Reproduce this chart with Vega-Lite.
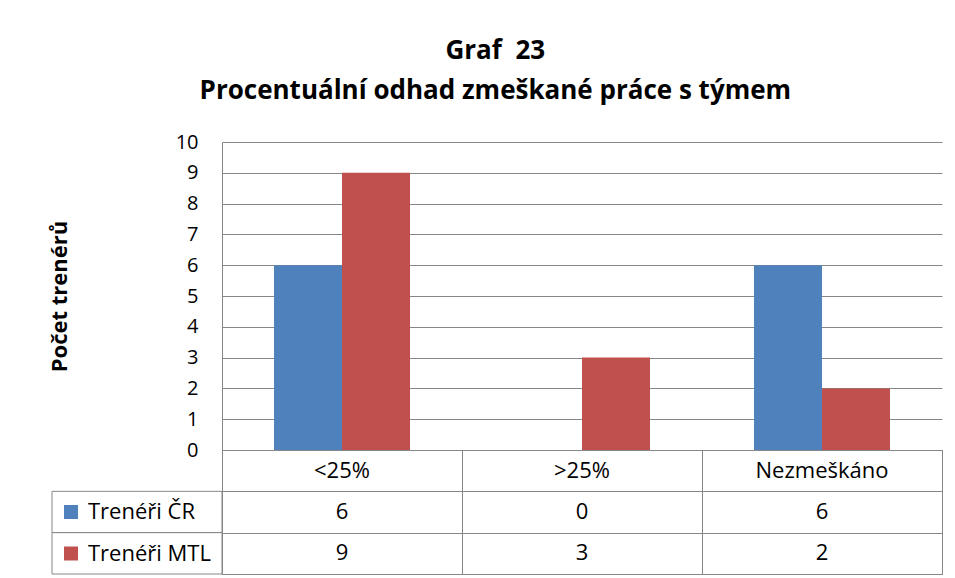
{
  "$schema": "https://vega.github.io/schema/vega-lite/v6.json",
  "background": "white",
  "padding": {"left": 48, "top": 38, "right": 10, "bottom": 4},
  "config": {
    "font": "Open Sans",
    "view": {"stroke": null},
    "concat": {"spacing": 0}
  },
  "title": {
    "text": ["Graf\u00a0 23", "Procentuální odhad zmeškané práce s týmem"],
    "fontSize": 26,
    "fontWeight": "bold",
    "lineHeight": 40,
    "color": "#000000",
    "anchor": "middle",
    "offset": 28
  },
  "datasets": {
    "counts": [
      {"kategorie": "<25%", "serie": "Trenéři ČR", "pocet": 6},
      {"kategorie": "<25%", "serie": "Trenéři MTL", "pocet": 9},
      {"kategorie": ">25%", "serie": "Trenéři ČR", "pocet": 0},
      {"kategorie": ">25%", "serie": "Trenéři MTL", "pocet": 3},
      {"kategorie": "Nezmeškáno", "serie": "Trenéři ČR", "pocet": 6},
      {"kategorie": "Nezmeškáno", "serie": "Trenéři MTL", "pocet": 2}
    ]
  },
  "columns": 2,
  "bounds": "flush",
  "spacing": 0,
  "concat": [
    {
      "width": 170,
      "height": 308,
      "data": {"values": []},
      "mark": "text",
      "encoding": {}
    },
    {
      "width": 720,
      "height": 308,
      "data": {"name": "counts"},
      "mark": {"type": "bar"},
      "encoding": {
        "x": {
          "field": "kategorie",
          "type": "nominal",
          "sort": ["<25%", ">25%", "Nezmeškáno"],
          "scale": {"paddingInner": 0.4333, "paddingOuter": 0.2167},
          "axis": null
        },
        "xOffset": {
          "field": "serie",
          "type": "nominal",
          "sort": ["Trenéři ČR", "Trenéři MTL"],
          "scale": {"paddingInner": 0, "paddingOuter": 0}
        },
        "y": {
          "field": "pocet",
          "type": "quantitative",
          "scale": {"domain": [0, 10], "nice": false},
          "axis": {
            "title": "Počet trenérů",
            "titleFontSize": 22,
            "titleFontWeight": "bold",
            "titleColor": "#000000",
            "titlePadding": 104,
            "values": [0, 1, 2, 3, 4, 5, 6, 7, 8, 9, 10],
            "labelFontSize": 20,
            "labelColor": "#000000",
            "labelPadding": 24,
            "ticks": false,
            "domain": true,
            "domainColor": "#868686",
            "grid": true,
            "gridColor": "#868686",
            "gridOpacity": 1
          }
        },
        "color": {
          "field": "serie",
          "type": "nominal",
          "scale": {"domain": ["Trenéři ČR", "Trenéři MTL"], "range": ["#4F81BD", "#C0504D"]},
          "legend": {
            "title": null,
            "orient": "none",
            "legendX": 8,
            "legendY": 359,
            "direction": "vertical",
            "symbolType": "square",
            "symbolSize": 196,
            "symbolStrokeWidth": 0,
            "labelFontSize": 22,
            "labelColor": "#000000",
            "labelOffset": 6,
            "rowPadding": 19.5,
            "labelLimit": 0
          }
        }
      }
    },
    {
      "width": 170,
      "height": 124,
      "data": {"name": "counts"},
      "transform": [{"filter": "datum.kategorie === '<25%'"}],
      "mark": {"type": "rect", "fill": "white", "stroke": "#868686", "strokeWidth": 1},
      "encoding": {
        "y": {
          "field": "serie",
          "type": "nominal",
          "scale": {"domain": ["Kategorie", "Trenéři ČR", "Trenéři MTL"], "paddingInner": 0, "paddingOuter": 0},
          "axis": null
        }
      }
    },
    {
      "width": 720,
      "height": 124,
      "view": {"stroke": "#868686", "strokeWidth": 1},
      "data": {"name": "counts"},
      "encoding": {
        "x": {
          "field": "kategorie",
          "type": "nominal",
          "sort": ["<25%", ">25%", "Nezmeškáno"],
          "scale": {"paddingInner": 0, "paddingOuter": 0},
          "axis": {"orient": "top", "labels": false, "ticks": false, "domain": false, "grid": true, "tickBand": "extent", "gridColor": "#868686", "gridOpacity": 1, "title": null}
        }
      },
      "layer": [
        {
          "mark": {"type": "text", "fontSize": 22, "color": "#000000"},
          "encoding": {
            "y": {
              "field": "serie",
              "type": "nominal",
              "scale": {"domain": ["Kategorie", "Trenéři ČR", "Trenéři MTL"], "paddingInner": 0, "paddingOuter": 0},
              "axis": {"labels": false, "ticks": false, "domain": false, "grid": true, "tickBand": "extent", "gridColor": "#868686", "gridOpacity": 1, "title": null}
            },
            "text": {"field": "pocet", "type": "quantitative"}
          }
        },
        {
          "transform": [{"filter": "datum.serie === 'Trenéři ČR'"}],
          "mark": {"type": "text", "fontSize": 22, "color": "#000000"},
          "encoding": {
            "y": {"datum": "Kategorie", "type": "nominal"},
            "text": {"field": "kategorie", "type": "nominal"}
          }
        }
      ]
    }
  ]
}
